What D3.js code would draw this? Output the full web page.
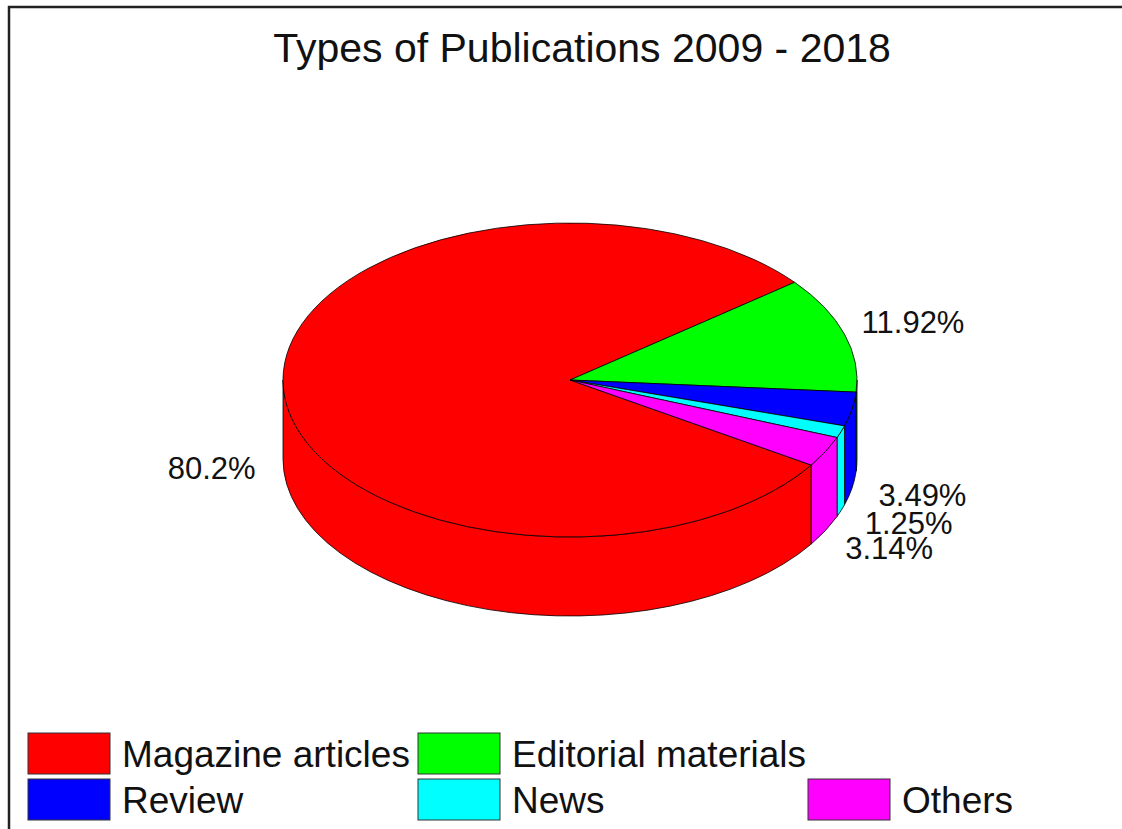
<!DOCTYPE html>
<html>
<head>
<meta charset="utf-8">
<script src="https://cdn.jsdelivr.net/npm/d3@7"></script>
<style>
  html, body { margin: 0; padding: 0; background: #fff; }
  svg { display: block; font-family: "Liberation Sans", Arial, sans-serif; }
</style>
</head>
<body>
<svg id="chart" width="1122" height="829"></svg>
<script>
// Publication types and their shares (percent)
const categories = ["Magazine articles", "Editorial materials", "Review", "News", "Others"];
const shares = [80.2, 11.92, 3.49, 1.25, 3.14];
const colors = ["#ff0000", "#00ff00", "#0000ff", "#00ffff", "#ff00ff"];
const titleText = "Types of Publications 2009 - 2018";

// legend grid placement (row, column) of each entry
const legendRow = [0, 0, 1, 1, 1];
const legendCol = [0, 1, 0, 1, 2];

const svg = d3.select("#chart");
const W = 1122, H = 829;

svg.append("rect").attr("width", W).attr("height", H).attr("fill", "#fff");

// outer frame
svg.append("rect")
  .attr("x", 9).attr("y", 7)
  .attr("width", 1300).attr("height", 1000)
  .attr("fill", "none").attr("stroke", "#222").attr("stroke-width", 2.5);

// title
svg.append("text")
  .attr("x", 582).attr("y", 62)
  .attr("text-anchor", "middle")
  .attr("font-size", 41)
  .attr("fill", "#111")
  .text(titleText);

// 3D pie geometry
const cx = 570, cy = 380, rx = 287, ry = 157, depth = 79;
const startDeg = 122.8;
const start = startDeg * Math.PI / 180;

const pie = d3.pie().sort(null).value(d => d)
  .startAngle(start).endAngle(start + 2 * Math.PI);
const arcs = pie(shares);

// angle measured clockwise from 12 o'clock, projected onto the tilted disc
const P = (a, z = 0) => [cx + rx * Math.sin(a), cy - ry * Math.cos(a) + z];
const fmt = p => p[0].toFixed(2) + "," + p[1].toFixed(2);

const g = svg.append("g");

// visible outer walls: the part of each slice facing the viewer (angles pi/2 .. 3pi/2)
arcs.forEach((d, i) => {
  for (let k = -1; k <= 1; k++) {
    const lo = Math.PI / 2 + 2 * Math.PI * k, hi = 3 * Math.PI / 2 + 2 * Math.PI * k;
    const a = Math.max(d.startAngle, lo), b = Math.min(d.endAngle, hi);
    if (b - a <= 1e-6) continue;
    const path = "M" + fmt(P(a)) +
      " A" + rx + "," + ry + " 0 0 1 " + fmt(P(b)) +
      " L" + fmt(P(b, depth)) +
      " A" + rx + "," + ry + " 0 0 0 " + fmt(P(a, depth)) + " Z";
    g.append("path")
      .attr("d", path)
      .attr("fill", colors[i])
      .attr("stroke", "#000")
      .attr("stroke-width", 0.8)
      .attr("stroke-linejoin", "round");
  }
});

// top faces
arcs.forEach((d, i) => {
  const large = (d.endAngle - d.startAngle) > Math.PI ? 1 : 0;
  const path = "M" + cx + "," + cy +
    " L" + fmt(P(d.startAngle)) +
    " A" + rx + "," + ry + " 0 " + large + " 1 " + fmt(P(d.endAngle)) + " Z";
  g.append("path")
    .attr("d", path)
    .attr("fill", colors[i])
    .attr("stroke", "#000")
    .attr("stroke-width", 0.8)
    .attr("stroke-linejoin", "round");
});

// percentage labels just outside each slice; front labels sit at the base level
arcs.forEach((d, i) => {
  const m = (d.startAngle + d.endAngle) / 2;
  const x = cx + 1.25 * rx * Math.sin(m);
  let y = cy - 1.25 * ry * Math.cos(m);
  if (Math.cos(m) < 0) y += depth;
  svg.append("text")
    .attr("x", x).attr("y", y)
    .attr("text-anchor", "middle")
    .attr("dominant-baseline", "central")
    .attr("font-size", 31)
    .attr("fill", "#111")
    .text(shares[i] + "%");
});

// legend
const colX = d3.scaleLinear().domain([0, 1]).range([28, 418]);
const rowY = d3.scaleLinear().domain([0, 1]).range([733, 779]);
const leg = svg.append("g");
categories.forEach((c, i) => {
  const x = colX(legendCol[i]), y = rowY(legendRow[i]);
  leg.append("rect")
    .attr("x", x).attr("y", y)
    .attr("width", 82).attr("height", 41)
    .attr("fill", colors[i])
    .attr("stroke", "#333").attr("stroke-width", 1);
  leg.append("text")
    .attr("x", x + 94).attr("y", y + 21)
    .attr("dominant-baseline", "central")
    .attr("font-size", 37)
    .attr("fill", "#111")
    .text(c);
});
</script>
</body>
</html>
